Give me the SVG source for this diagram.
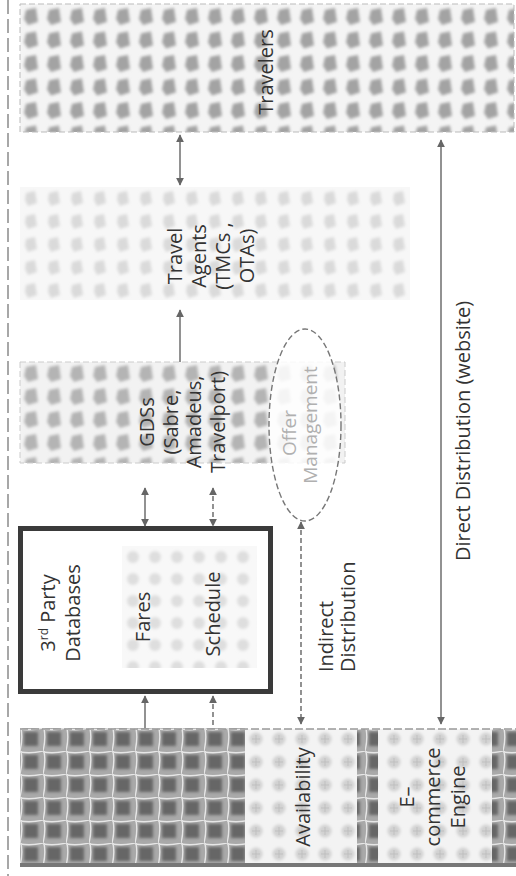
<svg xmlns="http://www.w3.org/2000/svg" width="516" height="876" viewBox="0 0 516 876">
<style>
.lbl{font-family:"Open Sans","Liberation Sans",sans-serif;font-size:20px;fill:#333}
.faint{font-family:"Open Sans","Liberation Sans",sans-serif;font-size:19px;fill:#b0b0b0}
.conn{stroke:#777;stroke-width:1.6;fill:none}
.dash{stroke-dasharray:5 3}
</style>
<defs>
<filter id="soft" x="-20%" y="-20%" width="140%" height="140%"><feGaussianBlur stdDeviation="1.6"/></filter>
<pattern id="pTrav" width="23" height="23.5" patternUnits="userSpaceOnUse" x="20" y="5">
<rect width="23" height="23.5" fill="#f4f4f4"/>
<path d="M6 5 L16 3 L18 17 L8 20 L4 14 Z" fill="#a3a3a3" filter="url(#soft)"/>
</pattern>
<pattern id="pTA" width="23" height="23" patternUnits="userSpaceOnUse" x="20" y="187">
<rect width="23" height="23" fill="#f7f7f7"/>
<path d="M6 6 L15 4 L17 16 L8 19 L5 13 Z" fill="#dadada" filter="url(#soft)"/>
</pattern>
<pattern id="pGDS" width="23" height="23" patternUnits="userSpaceOnUse" x="20" y="362">
<rect width="23" height="23" fill="#f2f2f2"/>
<path d="M6 5 L16 3 L18 17 L8 20 L4 14 Z" fill="#b4b4b4" filter="url(#soft)"/>
</pattern>
<pattern id="pDB" width="22" height="22" patternUnits="userSpaceOnUse" x="122" y="546">
<rect width="22" height="22" fill="#f8f8f8"/>
<circle cx="11" cy="11" r="6" fill="#dedede" filter="url(#soft)"/>
</pattern>
<pattern id="pRM" width="23" height="23" patternUnits="userSpaceOnUse" x="20" y="728">
<rect width="23" height="23" fill="#a9a9a9"/>
<rect x="4" y="4" width="14" height="14" fill="#666" filter="url(#soft)"/>
<path d="M0 1 Q11 3 23 0 M1 0 Q3 11 0 23" stroke="#e6e6e6" stroke-width="1.4" fill="none"/>
</pattern>
<pattern id="pAv" width="23" height="23" patternUnits="userSpaceOnUse" x="245" y="728">
<rect width="23" height="23" fill="#f3f3f3"/>
<circle cx="11" cy="11" r="6.5" fill="#d2d2d2" filter="url(#soft)"/>
<path d="M11 7 L11 15 M7 11 L15 11" stroke="#bbb" stroke-width="0.8"/>
</pattern>
<marker id="ah" viewBox="0 0 10 10" refX="9" refY="5" markerWidth="8" markerHeight="8" markerUnits="userSpaceOnUse" orient="auto-start-reverse">
<path d="M0 0 L10 5 L0 10 Z" fill="#666"/>
</marker>
</defs>
<rect width="516" height="876" fill="#fff"/>
<line x1="8" y1="0" x2="8" y2="876" stroke="#8a8a8a" stroke-width="1.5" stroke-dasharray="14 5"/>

<g id="travelers">
<rect x="20" y="4" width="494" height="128" fill="url(#pTrav)" stroke="#bbb" stroke-width="1" stroke-dasharray="6 3"/>
<text class="lbl" transform="translate(273,72) rotate(-90)" text-anchor="middle">Travelers</text>
</g>

<g id="travel-agents">
<rect x="20" y="187" width="390" height="113" fill="url(#pTA)"/>
<text class="lbl" transform="translate(182,256) rotate(-90)" text-anchor="middle"><tspan x="0" y="0">Travel</tspan><tspan x="0" y="24">Agents</tspan><tspan x="0" y="48">(TMCs ,</tspan><tspan x="0" y="72">OTAs)</tspan></text>
</g>

<g id="gds">
<rect x="20" y="362" width="325" height="101" fill="url(#pGDS)" stroke="#ccc" stroke-width="1" stroke-dasharray="6 3"/>
<text class="lbl" transform="translate(154,422) rotate(-90)" text-anchor="middle"><tspan x="0" y="0">GDSs</tspan><tspan x="0" y="23.5">(Sabre,</tspan><tspan x="0" y="47">Amadeus,</tspan><tspan x="0" y="70.5">Travelport)</tspan></text>
</g>

<g id="offer-management">
<ellipse cx="305" cy="425" rx="36" ry="96" fill="#fff" fill-opacity="0.85" stroke="#777" stroke-width="1.4" stroke-dasharray="6 3"/>
<text class="faint" transform="translate(296,433) rotate(-90)" text-anchor="middle">Offer</text>
<text class="faint" transform="translate(317,425) rotate(-90)" text-anchor="middle">Management</text>
</g>

<g id="third-party-databases">
<rect x="20.5" y="528.5" width="250" height="163" fill="#fff" stroke="#3a3a3a" stroke-width="5"/>
<rect x="122" y="546" width="135" height="122" fill="url(#pDB)"/>
<text class="lbl" transform="translate(55,613) rotate(-90)" text-anchor="middle"><tspan x="0" y="0">3<tspan font-size="12" dy="-7">rd</tspan><tspan dy="7"> Party</tspan></tspan><tspan x="0" y="25">Databases</tspan></text>
<g id="fares"><text class="lbl" transform="translate(150,617) rotate(-90)" text-anchor="middle">Fares</text></g>
<g id="schedule"><text class="lbl" transform="translate(220,614) rotate(-90)" text-anchor="middle">Schedule</text></g>
</g>

<g id="airline-systems">
<rect x="20" y="728" width="225" height="139" fill="url(#pRM)"/>
<rect x="245" y="729" width="271" height="137" fill="url(#pAv)"/>
<rect x="357" y="729" width="21" height="137" fill="url(#pRM)"/>
<rect x="492" y="729" width="24" height="137" fill="url(#pRM)"/>
<line x1="20" y1="729" x2="516" y2="729" stroke="#999" stroke-width="1.5" stroke-dasharray="8 3"/>
<line x1="20" y1="865" x2="516" y2="865" stroke="#777" stroke-width="4"/>
<g id="availability"><text class="lbl" transform="translate(310,797) rotate(-90)" text-anchor="middle">Availability</text></g>
<g id="ecommerce-engine"><text class="lbl" transform="translate(414,797) rotate(-90)" text-anchor="middle"><tspan x="0" y="0">E–</tspan><tspan x="0" y="26">commerce</tspan><tspan x="0" y="51">Engine</tspan></text></g>
</g>

<g id="connectors">
<line class="conn" x1="180" y1="135" x2="180" y2="185" marker-start="url(#ah)" marker-end="url(#ah)"/>
<line class="conn" x1="180" y1="310" x2="180" y2="362" marker-start="url(#ah)"/>
<line class="conn" x1="145" y1="488" x2="145" y2="526" marker-start="url(#ah)" marker-end="url(#ah)"/>
<line class="conn dash" x1="213" y1="488" x2="213" y2="526" marker-start="url(#ah)" marker-end="url(#ah)"/>
<line class="conn" x1="145" y1="696" x2="145" y2="728" marker-start="url(#ah)"/>
<line class="conn dash" x1="213" y1="696" x2="213" y2="728" marker-start="url(#ah)"/>
<line class="conn dash" x1="301" y1="522" x2="301" y2="724" marker-start="url(#ah)" marker-end="url(#ah)"/>
<line class="conn" x1="441" y1="140" x2="441" y2="724" marker-start="url(#ah)" marker-end="url(#ah)"/>
</g>

<g id="labels">
<text class="lbl" transform="translate(333,672) rotate(-90)"><tspan x="0" y="0">Indirect</tspan><tspan x="0" y="22">Distribution</tspan></text>
<text class="lbl" transform="translate(470,431) rotate(-90)" text-anchor="middle">Direct Distribution (website)</text>
</g>
</svg>
